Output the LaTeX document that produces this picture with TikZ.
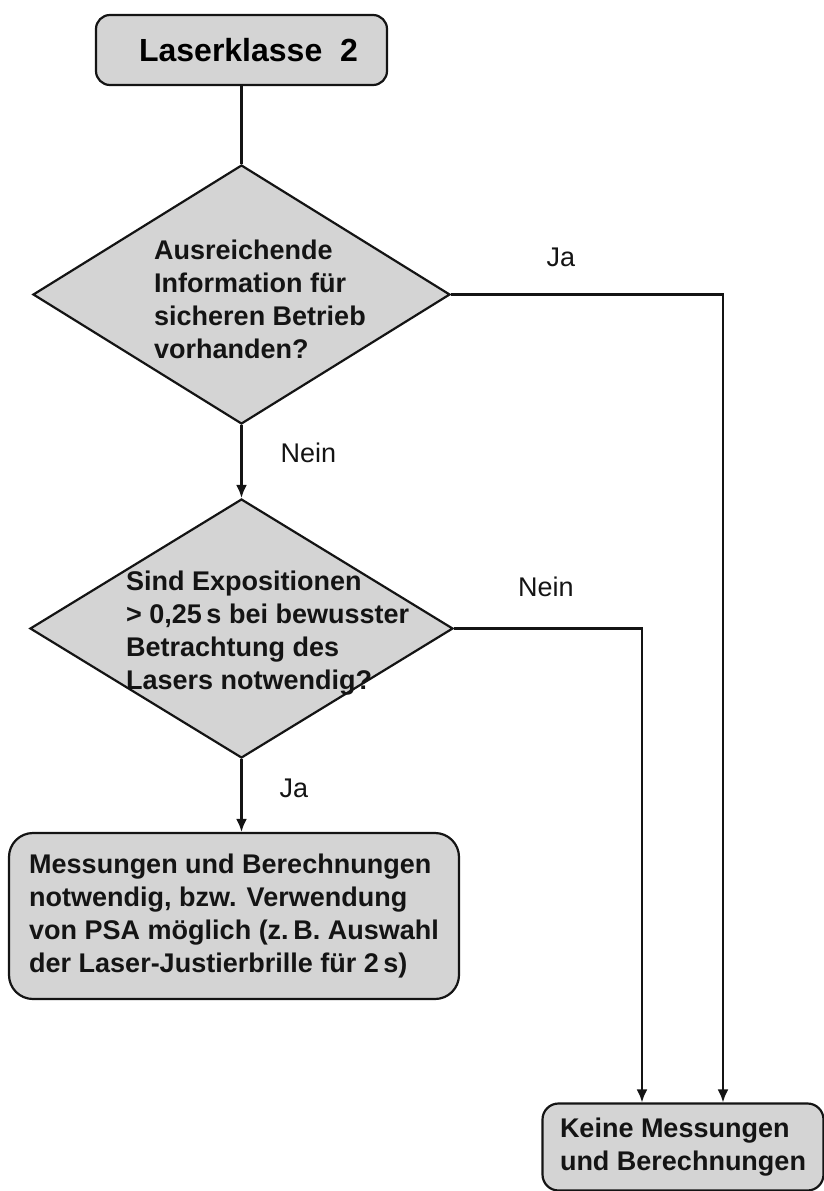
\documentclass[tikz,border=0pt]{standalone}
\usepackage{fontspec}
\setmainfont{Liberation Sans}
\usepackage{tikz}
\usetikzlibrary{shapes.geometric}
\usetikzlibrary{arrows.meta, arrows}
\definecolor{mygray}{gray}{0.83}
\definecolor{myblack}{gray}{0.08}

\begin{document}
\begin{tikzpicture}[x=1pt, y=-1pt, >={Latex[length=13pt, width=11pt]},
    box/.style={draw=myblack, line width=2.2pt, fill=mygray, rounded corners=22pt, inner sep=0pt},
    ifbox/.style={draw=myblack, line width=2.2pt, fill=mygray, diamond, inner sep=0pt},
    btext/.style={font=\bfseries\fontsize{27}{33}\selectfont, text=myblack, align=left, inner sep=0pt},
    answer/.style={font=\fontsize{27}{33}\selectfont, text=myblack, inner sep=0pt},
    line/.style={myblack, line width=2.2pt}]
    \useasboundingbox (0,0) rectangle (823,1191);
    % boxes and questions
    \node[box, rounded corners=14pt, minimum width=291pt, minimum height=70pt,
        font=\bfseries\fontsize{32}{36}\selectfont] (start) at (241.5,50) {\hspace{14pt}Laserklasse~~2};
    \node[ifbox, minimum width=417pt, minimum height=259pt] (q1) at (241.5,294.5) {};
    \node[btext, anchor=west] (q1text) at (154,299) {Ausreichende\\Information für\\sicheren Betrieb\\vorhanden?};
    \node[ifbox, minimum width=423pt, minimum height=259pt] (q2) at (241.5,628.5) {};
    \node[btext, anchor=west] (q2text) at (126,633) {Sind Expositionen\\> 0,25\,s bei bewusster\\Betrachtung des\\Lasers notwendig?};
    \node[box, btext, rounded corners=24pt, minimum width=450pt, minimum height=166pt] (mess) at (234,916)
        {Messungen und Berechnungen\\notwendig, bzw. Verwendung\\von PSA möglich (z.\,B. Auswahl\\der Laser-Justierbrille für 2\,s)};
    \node[box, btext, rounded corners=16pt, minimum width=281pt, minimum height=87pt] (keine) at (683,1147)
        {Keine Messungen\\und Berechnungen};
    % connectors
    \draw[line] (start.south) -- (start.south |- q1.north);
    \draw[line, ->] (q1.south) -- (q2.north) node[answer, midway, anchor=west, xshift=38pt, yshift=8.5pt] (nein1) {Nein};
    \draw[line, ->] (q2.south) -- (q2.south |- mess.north) node[answer, midway, anchor=west, xshift=37pt, yshift=7pt] (ja2) {Ja};
    \draw[line, ->] (q1.east) -| ([xshift=40pt]keine.north);
    \draw[line, ->] (q2.east) -| ([xshift=-41pt]keine.north);
    \node[answer] (ja1) at (561,257) {Ja};
    \node[answer] (nein2) at (546,587) {Nein};
\end{tikzpicture}
\end{document}
